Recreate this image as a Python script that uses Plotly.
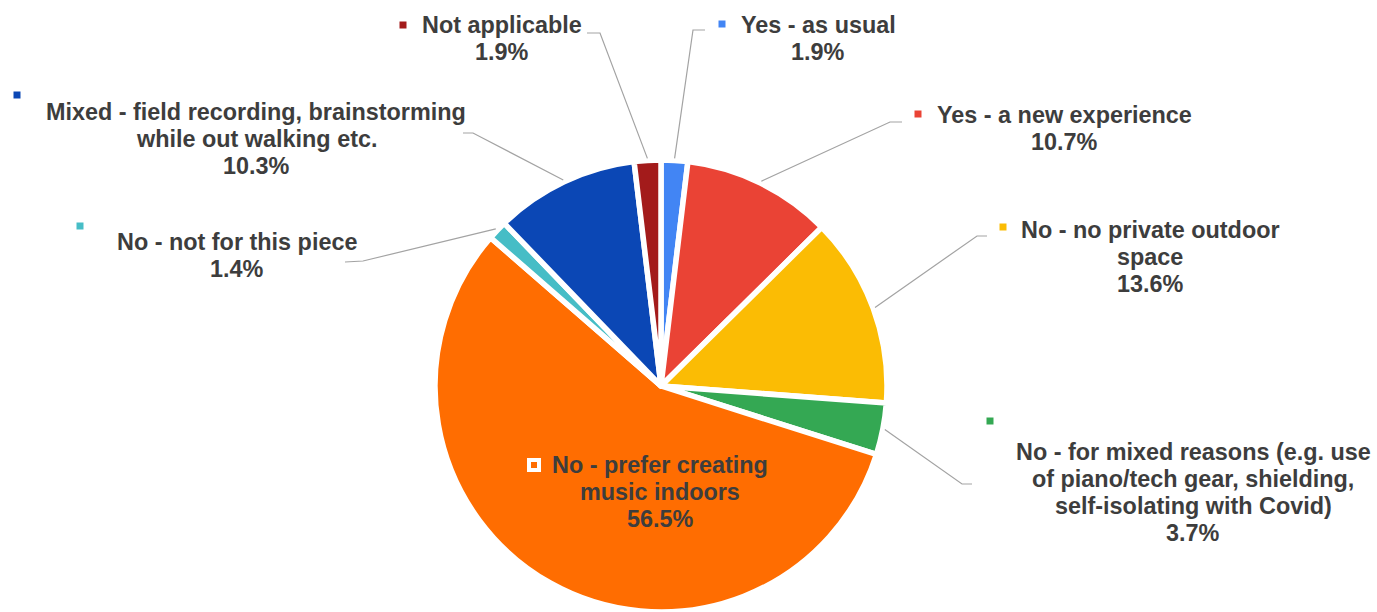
import math
import plotly.graph_objects as go

# ---- data -------------------------------------------------------------
categories = [
    "Yes - as usual",
    "Yes - a new experience",
    "No - no private outdoor space",
    "No - for mixed reasons (e.g. use of piano/tech gear, shielding, self-isolating with Covid)",
    "No - prefer creating music indoors",
    "No - not for this piece",
    "Mixed - field recording, brainstorming while out walking etc.",
    "Not applicable",
]
shares = [1.9, 10.7, 13.6, 3.7, 56.5, 1.4, 10.3, 1.9]

# how each category name is broken over lines in its label
label_lines = [
    ["Yes - as usual"],
    ["Yes - a new experience"],
    ["No - no private outdoor", "space"],
    ["No - for mixed reasons (e.g. use", "of piano/tech gear, shielding,", "self-isolating with Covid)"],
    ["No - prefer creating", "music indoors"],
    ["No - not for this piece"],
    ["Mixed - field recording, brainstorming", "while out walking etc."],
    ["Not applicable"],
]

slice_colors = ["#4285F4", "#EA4335", "#FBBC04", "#34A853",
                "#FF6D01", "#46BDC6", "#0B47B5", "#A31B1B"]

# ---- layout constants (pixels) ------------------------------------------
W, H = 1377, 612
CX, CY, R = 661, 386, 226          # pie centre and radius
LINE_GAP = 27
FONT = dict(family="Liberation Sans, Arial, sans-serif", size=23.4, color="#3d3d3d")
LEADER = dict(color="#a3a3a3", width=1.2)

# label block: centre x, first line y, key square (x, y), leader elbow, leader end
placement = [
    dict(cx=818, y0=25, key=(722, 24), elbow=(693, 30), end=(705, 30)),
    dict(cx=1064, y0=115, key=(918, 114), elbow=(890, 122), end=(902, 122)),
    dict(cx=1150, y0=230, key=(1003, 227), elbow=(977, 236), end=(987, 236)),
    dict(cx=1193, y0=452, key=(990, 421), elbow=(962, 484), end=(972, 484)),
    dict(cx=660, y0=465, key=(534, 465), elbow=None, end=None),
    dict(cx=237, y0=242, key=(80, 226), elbow=(363, 261), end=(345, 262)),
    dict(cx=256, y0=112, key=(17, 95), elbow=(473, 133), end=(463, 133)),
    dict(cx=502, y0=25, key=(403, 25), elbow=(600, 33), end=(587, 33)),
]


def px(x, y):
    """pixel position -> paper coordinates"""
    return x / W, 1 - y / H


fig = go.Figure(go.Pie(
    labels=categories,
    values=shares,
    sort=False,
    direction="clockwise",
    rotation=0,
    textinfo="none",
    hoverinfo="label+percent",
    marker=dict(colors=slice_colors, line=dict(color="white", width=5.5)),
    domain=dict(x=[0, 2 * CX / W], y=[0, 2 * R / H]),
    showlegend=False,
))

annotations = []
shapes = []
total = sum(shares)
cum = 0.0
for i, (lines, v) in enumerate(zip(label_lines, shares)):
    p = placement[i]
    mid = (cum + v / 2) / total * 2 * math.pi
    cum += v

    # text lines + percentage
    for k, txt in enumerate(lines + [f"{v:.1f}%"]):
        x, y = px(p["cx"], p["y0"] + k * LINE_GAP)
        annotations.append(dict(
            x=x, y=y, xref="paper", yref="paper", text=f"<b>{txt}</b>",
            showarrow=False, xanchor="center", yanchor="middle", font=FONT,
        ))

    # small colour key
    kx, ky = p["key"]
    if p["elbow"] is None:
        x0, y0 = px(kx - 5, ky + 5)
        x1, y1 = px(kx + 5, ky - 5)
        shapes.append(dict(type="rect", xref="paper", yref="paper",
                           x0=x0, y0=y0, x1=x1, y1=y1,
                           fillcolor=slice_colors[i], line=dict(color="white", width=4)))
    else:
        x0, y0 = px(kx - 3.5, ky + 3.5)
        x1, y1 = px(kx + 3.5, ky - 3.5)
        shapes.append(dict(type="rect", xref="paper", yref="paper",
                           x0=x0, y0=y0, x1=x1, y1=y1,
                           fillcolor=slice_colors[i], line=dict(width=0)))

        # leader line from slice edge to the label
        sx, sy = px(CX + (R + 2) * math.sin(mid), CY - (R + 2) * math.cos(mid))
        ex, ey = px(*p["elbow"])
        tx, ty = px(*p["end"])
        shapes.append(dict(type="path", xref="paper", yref="paper",
                           path=f"M {sx},{sy} L {ex},{ey} L {tx},{ty}",
                           line=LEADER))

fig.update_layout(
    width=W, height=H,
    margin=dict(l=0, r=0, t=0, b=0),
    paper_bgcolor="white",
    plot_bgcolor="white",
    annotations=annotations,
    shapes=shapes,
)

fig.write_html("out.html")
